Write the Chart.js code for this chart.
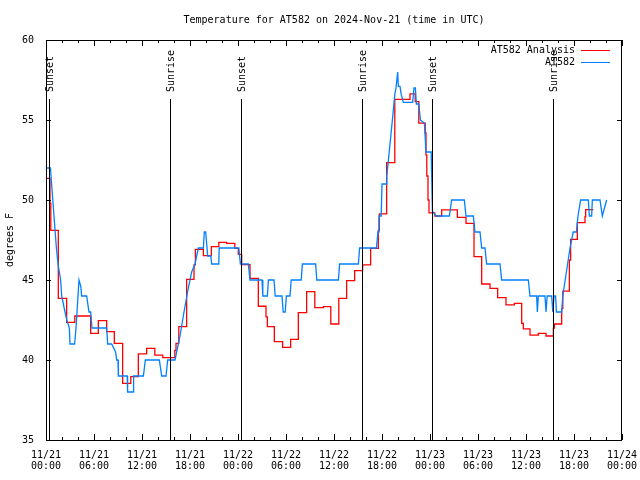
<!DOCTYPE html>
<html>
<head>
<meta charset="utf-8">
<script src="https://cdn.jsdelivr.net/npm/chart.js@4.4.1/dist/chart.umd.min.js"></script>
<style>
html,body{margin:0;padding:0;background:#fff;}
#wrap{width:640px;height:480px;}
</style>
</head>
<body>
<div id="wrap"><canvas id="c" width="640" height="480"></canvas></div>
<script>
// ---------------- data ----------------
const chartTitle = "Temperature for AT582 on 2024-Nov-21 (time in UTC)";
const yAxisLabel = "degrees F";
const seriesNames = ["AT582 Analysis", "AT582"];
const seriesColors = ["#ff0000", "#0080ff"];

// x axis: hours since 11/21 00:00 UTC
const xTickHours = [0, 6, 12, 18, 24, 30, 36, 42, 48, 54, 60, 66, 72];
const xTickLabels = ["11/21 00:00", "11/21 06:00", "11/21 12:00", "11/21 18:00",
                     "11/22 00:00", "11/22 06:00", "11/22 12:00", "11/22 18:00",
                     "11/23 00:00", "11/23 06:00", "11/23 12:00", "11/23 18:00",
                     "11/24 00:00"];
const yTicks = [35, 40, 45, 50, 55, 60];

// sunrise / sunset markers (hours)
const sunHours  = [0.43, 15.54, 24.42, 39.46, 48.29, 63.41];
const sunLabels = ["Sunset", "Sunrise", "Sunset", "Sunrise", "Sunset", "Sunrise"];

// AT582 Analysis (held value; each entry = value starting at that hour)
const redHours = [0.05, 0.5, 0.6, 1.54, 2.58, 3.6, 5.58, 6.54, 7.58, 8.54, 9.58, 10.6, 11.54,
  12.58, 13.6, 14.6, 16.1, 16.25, 16.6, 17.58, 18.5, 18.67, 19.67, 20.67, 21.6, 22.58, 23.6,
  24.04, 24.46, 25.5, 26.54, 27.5, 27.67, 28.54, 29.58, 30.58, 31.54, 32.58, 33.6, 34.67,
  35.6, 36.6, 37.58, 38.58, 39.58, 40.58, 41.54, 41.67, 42.58, 43.6, 45.5, 46.15, 46.6,
  47.4, 47.5, 47.6, 47.75, 47.875, 48.6, 49.46, 51.42, 52.5, 53.5, 54.46, 55.5, 56.46,
  57.5, 58.54, 59.46, 59.67, 60.5, 61.54, 62.5, 63.42, 63.55, 64.46, 64.6, 65.42, 65.58,
  66.42, 67.375, 67.46, 68.42];
const redTemps = [51.35, 49.8, 48.1, 43.85, 42.35, 42.75, 41.67, 42.46, 41.77, 41.04, 38.54, 38.96, 40.38,
  40.73, 40.31, 40.15, 40.6, 41.04, 42.08, 45.04, 45.94, 46.92, 46.52, 47.08, 47.35, 47.29, 46.98,
  46.6, 45.96, 45.1, 43.36, 42.7, 42.08, 41.15, 40.79, 41.29, 42.96, 44.27, 43.27, 43.33,
  42.25, 43.85, 44.96, 45.58, 45.94, 46.98, 48.1, 49.13, 52.33, 56.29, 56.63, 56.15, 54.8,
  54.2, 52.8, 51.5, 50.0, 49.2, 49.0, 49.38, 48.92, 48.54, 46.46, 44.75, 44.48, 43.9,
  43.44, 43.54, 42.29, 41.94, 41.56, 41.67, 41.5, 42.0, 42.25, 43.23, 44.31, 46.25, 47.54,
  48.58, 48.96, 49.4, 49.4];

// AT582 station observations (vertices of the plotted line)
const blueHours = [0.05, 0.55, 0.7, 0.85, 1.0, 1.15, 1.3, 1.5, 1.83, 1.96, 2.375, 2.6, 2.92, 3.0,
  3.58, 3.75, 4.125, 4.2, 4.35, 4.46, 5.08, 5.375, 5.58, 5.75, 7.58, 7.71, 8.21, 8.7, 8.83, 9.0,
  9.04, 10.15, 10.2, 10.9, 10.95, 12.17, 12.42, 14.17, 14.46, 15.0, 15.21, 16.125, 16.75, 17.25,
  17.79, 18.21, 18.625, 19.04, 19.67, 19.79, 19.96, 20.08, 20.21, 20.6, 20.71, 21.6, 21.65,
  24.1, 24.3, 25.29, 25.5, 27.0, 27.1, 27.67, 27.8, 28.5, 28.65, 29.5, 29.65, 29.9, 30.05,
  30.5, 30.65, 31.9, 32.05, 33.7, 33.85, 36.55, 36.7, 39.05, 39.2, 41.3, 41.5, 41.62, 41.9,
  42.0, 42.5, 42.6, 42.8, 43.1, 43.3, 43.45, 43.6, 43.75, 43.96, 44.04, 44.25, 44.4, 44.67,
  45.83, 46.0, 46.17, 46.3, 46.6, 46.8, 47.3, 47.5, 48.15, 48.3, 48.6, 48.8, 50.42, 50.71,
  52.29, 52.5, 53.42, 53.625, 54.25, 54.46, 54.875, 55.08, 56.75, 56.96, 60.29, 60.5, 61.33,
  61.42, 61.54, 62.375, 62.5, 62.65, 63.21, 63.35, 63.5, 63.7, 63.8, 64.46, 64.6, 64.9, 65.2,
  65.5, 65.9, 66.3, 66.5, 66.83, 67.79, 67.92, 68.21, 68.29, 69.25, 69.54, 70.08];
const blueTemps = [52, 52, 51, 50, 49, 48, 47, 46, 45, 44, 43, 42.5, 42, 41,
  41, 42, 45, 45, 44.6, 44, 44, 43, 43, 42, 42, 41, 41, 40.5, 40, 40,
  39, 39, 38, 38, 39, 39, 40, 40, 39, 39, 40, 40, 41.5, 43,
  44.5, 45.5, 46, 47, 47, 48, 48, 47.3, 46.5, 46.5, 46, 46, 47,
  47, 46, 46, 45, 45, 44, 44, 45, 45, 44, 44, 43, 43, 44,
  44, 45, 45, 46, 46, 45, 45, 46, 46, 47, 47, 48, 49, 49,
  51, 51, 51.5, 52.5, 54, 55, 55.8, 56.6, 57, 58, 57.1, 57.1, 56.6, 56.1,
  56.1, 57, 57, 56, 56, 55, 54.8, 53, 53, 49.3, 49.1, 49, 49, 50,
  50, 49, 49, 48, 48, 47, 47, 46, 46, 45, 45, 44, 44,
  43, 44, 44, 43, 44, 44, 43, 44, 44, 43, 43, 44, 45, 46,
  47, 48, 48, 49, 50, 50, 49, 49, 50, 50, 49, 50];

// ---------------- chart ----------------
const FONT = "'DejaVu Sans Mono', 'Liberation Mono', monospace";
Chart.defaults.font.family = FONT;
Chart.defaults.font.size = 10;
Chart.defaults.color = '#000';

const gnuplotDecor = {
  id: 'gnuplotDecor',
  afterDatasetsDraw(chart) {
    const ctx = chart.ctx;
    const a = chart.chartArea;
    const xs = chart.scales.x, ys = chart.scales.y;
    ctx.save();
    ctx.strokeStyle = '#000';
    ctx.lineWidth = 1;

    // sunrise / sunset markers
    ctx.font = '10px ' + FONT;
    ctx.fillStyle = '#000';
    sunHours.forEach((h, i) => {
      const x = Math.round(xs.getPixelForValue(h)) + 0.5;
      ctx.beginPath();
      ctx.moveTo(x, a.bottom);
      ctx.lineTo(x, a.top + 59);
      ctx.stroke();
      ctx.save();
      ctx.translate(x + 1, a.top + 52);
      ctx.rotate(-Math.PI / 2);
      ctx.textAlign = 'left';
      ctx.textBaseline = 'middle';
      ctx.fillText(sunLabels[i], 0, 0);
      ctx.restore();
    });

    // border
    ctx.strokeRect(a.left + 0.5, a.top + 0.5, a.right - a.left - 1, a.bottom - a.top);

    // x ticks (major every 6h, minor every 2h), inward on bottom and top
    ctx.beginPath();
    for (let h = xs.min; h <= xs.max; h += 2) {
      const x = Math.round(xs.getPixelForValue(h)) + 0.5;
      const len = xTickHours.includes(h) ? 6 : 3;
      ctx.moveTo(x, a.bottom); ctx.lineTo(x, a.bottom - len);
      ctx.moveTo(x, a.top); ctx.lineTo(x, a.top + len);
    }
    // y ticks, inward left and right
    yTicks.forEach(v => {
      const y = Math.round(ys.getPixelForValue(v)) + 0.5;
      ctx.moveTo(a.left, y); ctx.lineTo(a.left + 5, y);
      ctx.moveTo(a.right, y); ctx.lineTo(a.right - 5, y);
    });
    ctx.stroke();

    // key (top right, gnuplot style)
    chart.data.datasets.forEach((ds, i) => {
      const y = a.top + 10.5 + 12 * i;
      ctx.fillStyle = '#000';
      ctx.textAlign = 'right';
      ctx.textBaseline = 'middle';
      ctx.fillText(ds.label, a.right - 47, y);
      ctx.strokeStyle = ds.borderColor;
      ctx.beginPath();
      ctx.moveTo(a.right - 41, y);
      ctx.lineTo(a.right - 12, y);
      ctx.stroke();
    });
    ctx.restore();
  }
};

new Chart(document.getElementById('c'), {
  type: 'line',
  data: {
    datasets: [
      {
        label: seriesNames[0],
        data: redHours.map((h, i) => ({ x: h, y: redTemps[i] })),
        borderColor: seriesColors[0],
        borderWidth: 1.3,
        pointRadius: 0,
        stepped: 'before',
        fill: false,
        order: 1
      },
      {
        label: seriesNames[1],
        data: blueHours.map((h, i) => ({ x: h, y: blueTemps[i] })),
        borderColor: seriesColors[1],
        borderWidth: 1.3,
        pointRadius: 0,
        tension: 0,
        fill: false,
        order: 0
      }
    ]
  },
  options: {
    responsive: false,
    animation: false,
    events: [],
    layout: { padding: { left: 0, right: 18, top: 0, bottom: 0 } },
    plugins: {
      legend: { display: false },
      tooltip: { enabled: false },
      title: {
        display: true,
        text: chartTitle,
        fullSize: false,
        color: '#000',
        font: { family: FONT, size: 10, weight: 'normal', lineHeight: 1.2 },
        padding: { top: 14, bottom: 14 }
      }
    },
    scales: {
      x: {
        type: 'linear',
        min: 0,
        max: 72,
        afterBuildTicks: s => { s.ticks = xTickHours.map(v => ({ value: v })); },
        ticks: {
          autoSkip: false,
          maxRotation: 0,
          minRotation: 0,
          padding: 10,
          color: '#000',
          font: { family: FONT, size: 10, lineHeight: 1.1 },
          callback: (v) => {
            const i = xTickHours.indexOf(v);
            return i >= 0 ? xTickLabels[i].split(' ') : '';
          }
        },
        grid: { display: false, drawTicks: false },
        border: { display: false },
        afterFit: s => { s.height = 40; s.paddingLeft = 0; s.paddingRight = 0; }
      },
      y: {
        min: 35,
        max: 60,
        afterBuildTicks: s => { s.ticks = yTicks.map(v => ({ value: v })); },
        ticks: {
          padding: 12,
          color: '#000',
          font: { family: FONT, size: 10 }
        },
        title: {
          display: true,
          text: yAxisLabel,
          color: '#000',
          font: { family: FONT, size: 10, lineHeight: 1.2 },
          padding: { top: 4, bottom: 0 }
        },
        grid: { display: false, drawTicks: false },
        border: { display: false },
        afterFit: s => { s.width = 46; }
      }
    }
  },
  plugins: [gnuplotDecor]
});
</script>
</body>
</html>
